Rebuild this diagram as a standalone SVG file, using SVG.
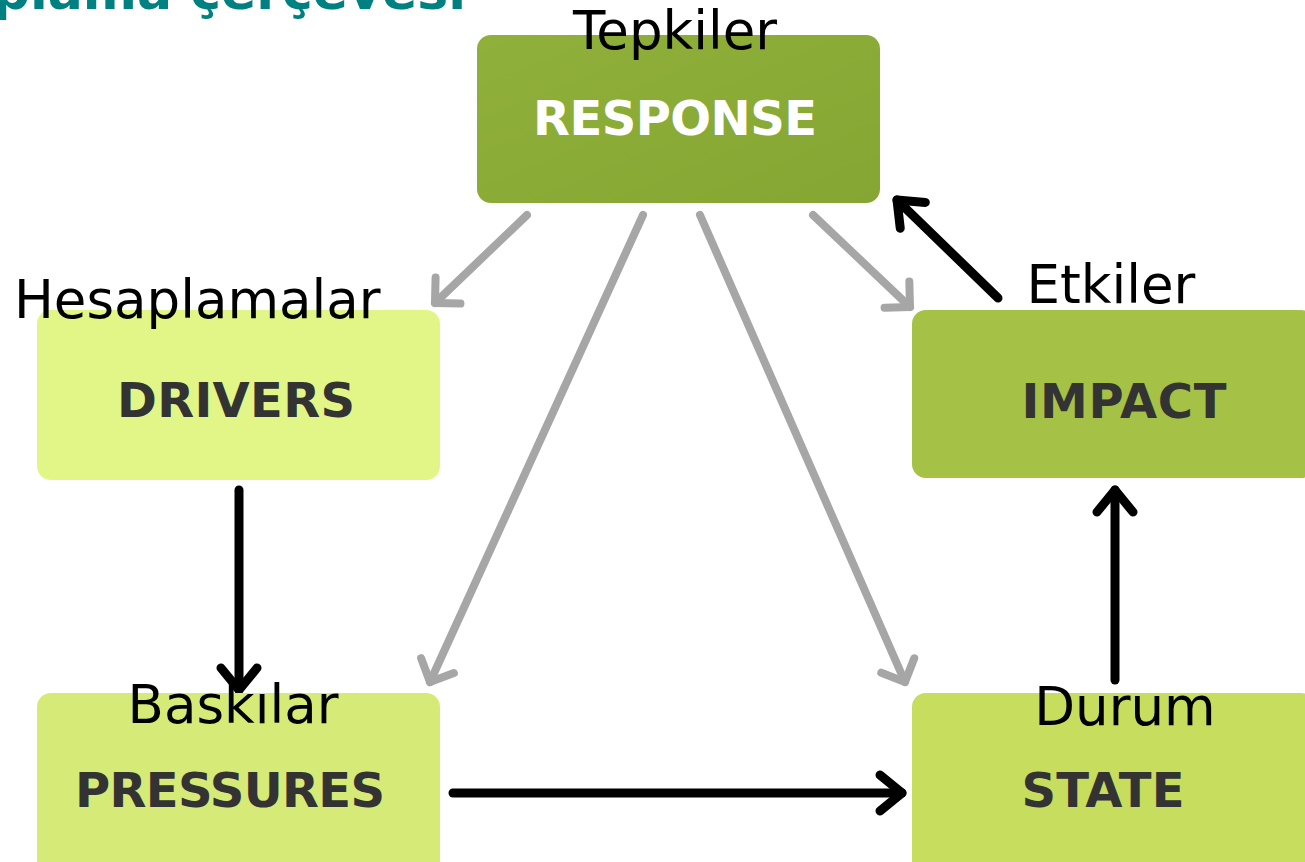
<svg xmlns="http://www.w3.org/2000/svg" width="1305" height="862" viewBox="0 0 1305 862">
  <style>
    .box-text { font-family: "DejaVu Sans", Verdana, sans-serif; font-weight: bold; font-size: 48px; text-anchor: middle; }
    .dark { fill: #333333; }
    .light { fill: #ffffff; }
    .label { font-family: "DejaVu Sans", Verdana, sans-serif; font-size: 53px; fill: #000000; }
    .gray { fill: none; stroke: #A6A6A6; stroke-width: 8; stroke-linecap: round; marker-end: url(#ag); }
    .black { fill: none; stroke: #000000; stroke-width: 9; stroke-linecap: round; marker-end: url(#ab); }
  </style>
  <defs>
    <linearGradient id="gResp" x1="0" y1="0" x2="1" y2="1">
      <stop offset="0" stop-color="#8FB03A"/>
      <stop offset="1" stop-color="#86A633"/>
    </linearGradient>
    <marker id="ag" markerUnits="userSpaceOnUse" markerWidth="60" markerHeight="60" refX="30" refY="30" orient="auto" overflow="visible">
      <path d="M12 12 L30 30 L12 48" fill="none" stroke="#A6A6A6" stroke-width="8" stroke-linecap="round" stroke-linejoin="round"/>
    </marker>
    <marker id="ab" markerUnits="userSpaceOnUse" markerWidth="60" markerHeight="60" refX="30" refY="30" orient="auto" overflow="visible">
      <path d="M8 12 L30 30 L8 48" fill="none" stroke="#000000" stroke-width="9" stroke-linecap="round" stroke-linejoin="round"/>
    </marker>
  </defs>
  <rect x="0" y="0" width="1305" height="862" fill="#ffffff"/>

  <text x="466" y="9" font-family="'DejaVu Sans', Verdana, sans-serif" font-weight="bold" font-size="52" fill="#008080" text-anchor="end">plama çerçevesi</text>

  <g id="connectors">
    <path class="gray" d="M527 215 L435 303"/>
    <path class="gray" d="M643 215 L430 682"/>
    <path class="gray" d="M700 215 L905 682"/>
    <path class="gray" d="M813 215 L910 307"/>
    <path class="black" d="M239 490 L239 690"/>
    <path class="black" d="M453 793 L902 793"/>
    <path class="black" d="M1115 680 L1115 490"/>
    <path class="black" d="M998 298 L897 200"/>
  </g>

  <g id="response">
    <rect x="477" y="35" width="403" height="168" rx="14" fill="url(#gResp)"/>
    <text class="box-text light" x="675" y="135" textLength="284">RESPONSE</text>
    <text class="label" x="675" y="49" text-anchor="middle">Tepkiler</text>
  </g>

  <g id="drivers">
    <rect x="37" y="310" width="403" height="170" rx="14" fill="#E2F687"/>
    <text class="box-text dark" x="236" y="417" textLength="238">DRIVERS</text>
    <text class="label" x="14" y="318">Hesaplamalar</text>
  </g>

  <g id="impact">
    <rect x="912" y="310" width="403" height="168" rx="14" fill="#A5C246"/>
    <text class="box-text dark" x="1124" y="418" textLength="205">IMPACT</text>
    <text class="label" x="1111" y="303" text-anchor="middle">Etkiler</text>
  </g>

  <g id="pressures">
    <rect x="37" y="693" width="403" height="185" rx="14" fill="#D6EA77"/>
    <text class="box-text dark" x="230" y="807" textLength="310">PRESSURES</text>
    <text class="label" x="233" y="723" text-anchor="middle">Baskılar</text>
  </g>

  <g id="state">
    <rect x="912" y="693" width="403" height="185" rx="14" fill="#C6DD5E"/>
    <text class="box-text dark" x="1103" y="807" textLength="163">STATE</text>
    <text class="label" x="1125" y="725" text-anchor="middle">Durum</text>
  </g>
</svg>
